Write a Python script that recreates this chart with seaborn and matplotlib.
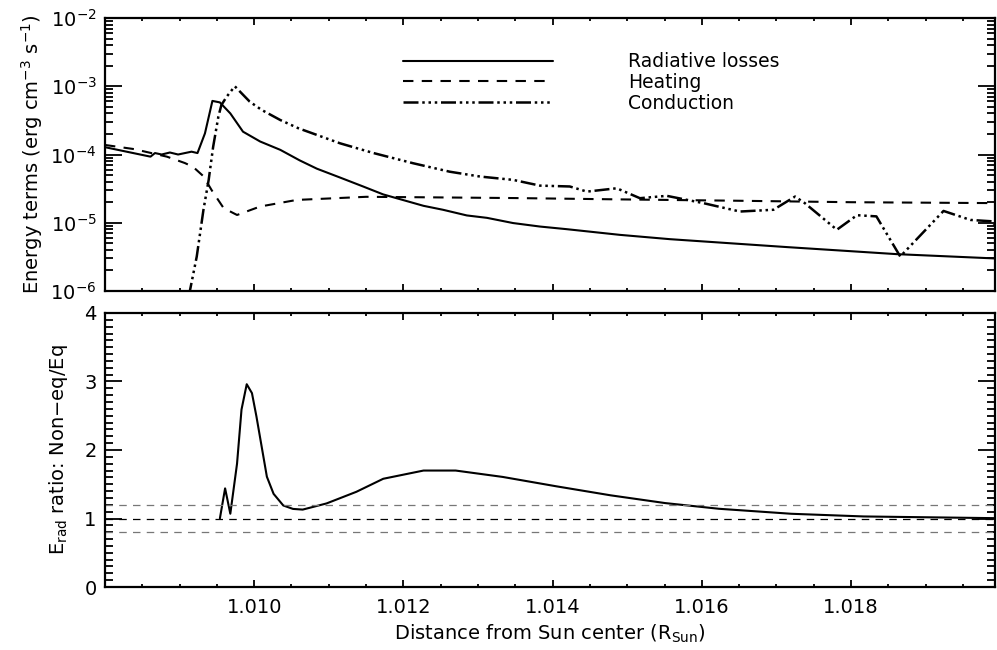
import matplotlib
matplotlib.use("Agg")
import matplotlib.pyplot as plt
from matplotlib.ticker import LogLocator, MultipleLocator, FuncFormatter, NullFormatter
import seaborn as sns

# radiative losses (solid)
x_rad = [1.0080, 1.00861, 1.00867, 1.00876, 1.00887, 1.00898, 1.00916, 1.00924, 1.00934,
         1.00944, 1.00954, 1.00968, 1.00985, 1.01008, 1.01035, 1.01061, 1.01084, 1.01115,
         1.01146, 1.01173, 1.01227, 1.01253, 1.01285, 1.01312, 1.01347, 1.01383, 1.01419,
         1.0149, 1.01557, 1.01714, 1.01861, 1.01993]
rad = [1.28e-4, 9.3e-5, 1.05e-4, 1.0e-4, 1.07e-4, 1.0e-4, 1.1e-4, 1.05e-4, 2.04e-4,
       6.1e-4, 5.8e-4, 4.0e-4, 2.16e-4, 1.55e-4, 1.17e-4, 8.2e-5, 6.2e-5, 4.6e-5,
       3.4e-5, 2.6e-5, 1.77e-5, 1.55e-5, 1.28e-5, 1.18e-5, 9.9e-6, 8.8e-6, 8.05e-6,
       6.65e-6, 5.75e-6, 4.4e-6, 3.47e-6, 3.0e-6]

# heating (dashed)
x_heat = [1.0080, 1.00839, 1.00883, 1.00907, 1.00918, 1.00932, 1.00943, 1.00959, 1.00977,
          1.01008, 1.01057, 1.0115, 1.0125, 1.0135, 1.0149, 1.0165, 1.0180, 1.01993]
heat = [1.38e-4, 1.2e-4, 9.3e-5, 7.5e-5, 6.6e-5, 4.8e-5, 3.0e-5, 1.64e-5, 1.3e-5,
        1.73e-5, 2.16e-5, 2.4e-5, 2.35e-5, 2.3e-5, 2.2e-5, 2.1e-5, 2.0e-5, 1.94e-5]

# conduction (dash dot dot dot)
x_cond = [1.00912, 1.00923, 1.00932, 1.00939, 1.00945, 1.00952, 1.00956, 1.00963, 1.00974,
          1.00994, 1.0101, 1.01035, 1.01059, 1.01115, 1.0116, 1.01213, 1.01262, 1.01303,
          1.01347, 1.01383, 1.01423, 1.01446, 1.01486, 1.01517, 1.01553, 1.01602, 1.01651,
          1.01696, 1.01725, 1.01738, 1.01781, 1.01808, 1.01834, 1.01866, 1.01924, 1.0196,
          1.01989, 1.01995]
cond = [8e-7, 3.2e-6, 1.55e-5, 4.25e-5, 1.3e-4, 3.6e-4, 5.3e-4, 7.0e-4, 1.0e-3,
        5.95e-4, 4.5e-4, 3.2e-4, 2.43e-4, 1.46e-4, 1.05e-4, 7.45e-5, 5.6e-5, 4.75e-5,
        4.25e-5, 3.5e-5, 3.4e-5, 2.86e-5, 3.2e-5, 2.29e-5, 2.48e-5, 1.94e-5, 1.46e-5,
        1.55e-5, 2.42e-5, 1.94e-5, 7.9e-6, 1.29e-5, 1.24e-5, 3.2e-6, 1.49e-5, 1.1e-5,
        1.05e-5, 8.3e-6]

# E_rad ratio non-eq / eq
x_ratio = [1.00954, 1.00961, 1.00968, 1.00977, 1.00983, 1.0099, 1.00997, 1.01003, 1.0101,
           1.01017, 1.01026, 1.01039, 1.01052, 1.01065, 1.01097, 1.01137, 1.01173, 1.01227,
           1.0127, 1.01333, 1.01405, 1.01478, 1.01551, 1.01623, 1.0172, 1.01817, 1.01993]
ratio = [1.0, 1.44, 1.07, 1.80, 2.59, 2.96, 2.83, 2.49, 2.05,
         1.61, 1.36, 1.19, 1.14, 1.13, 1.22, 1.39, 1.58, 1.70,
         1.70, 1.607, 1.47, 1.338, 1.225, 1.142, 1.069, 1.03, 1.005]

ref_lines = [1.2, 1.0, 0.8]
ref_colors = ["#777777", "black", "#777777"]

sns.set_theme(style="ticks")
plt.rcParams["font.family"] = ["DejaVu Sans"]
plt.rcParams["axes.linewidth"] = 1.6
plt.rcParams["text.color"] = "black"
plt.rcParams["axes.labelcolor"] = "black"

fig = plt.figure(figsize=(9.97, 6.5), dpi=100)
ax1 = fig.add_axes([0.1053, 0.5523, 0.8927, 0.4200])
ax2 = fig.add_axes([0.1053, 0.0969, 0.8927, 0.4216])

cond_style = (0, (6, 1.5, 1, 1.5, 1, 1.5, 1, 1.5))

sns.lineplot(x=x_rad, y=rad, ax=ax1, color="black", lw=1.5, sort=False,
             estimator=None, label="Radiative losses")
sns.lineplot(x=x_heat, y=heat, ax=ax1, color="black", lw=1.5, sort=False,
             estimator=None, linestyle=(0, (5, 4)), label="Heating")
sns.lineplot(x=x_cond, y=cond, ax=ax1, color="black", lw=1.8, sort=False,
             estimator=None, linestyle=cond_style, label="Conduction")

ax1.set_yscale("log")
ax1.set_ylim(1e-6, 1e-2)
ax1.set_xlim(1.008, 1.01993)
ax1.yaxis.set_major_locator(LogLocator(base=10, numticks=10))
ax1.yaxis.set_minor_locator(LogLocator(base=10, subs=range(2, 10), numticks=10))
ax1.yaxis.set_minor_formatter(NullFormatter())
ax1.xaxis.set_major_locator(MultipleLocator(0.002))
ax1.xaxis.set_minor_locator(MultipleLocator(0.0005))
ax1.set_xticklabels([])
ax1.set_xlabel("")
ax1.set_ylabel("Energy terms (erg cm$^{-3}$ s$^{-1}$)", fontsize=14, labelpad=4)

leg = ax1.legend(loc="upper left", bbox_to_anchor=(0.335, 0.875), frameon=False,
                 fontsize=13.5, handlelength=8.0, handletextpad=4.0, labelspacing=0.1,
                 borderpad=0, borderaxespad=0)
for t in leg.get_texts():
    t.set_color("black")

sns.lineplot(x=x_ratio, y=ratio, ax=ax2, color="black", lw=1.5, sort=False, estimator=None)
for yv, c in zip(ref_lines, ref_colors):
    ax2.axhline(yv, color=c, lw=0.9, linestyle=(0, (6, 5)))
ax2.set_ylim(0, 4)
ax2.set_xlim(1.008, 1.01993)
ax2.yaxis.set_major_locator(MultipleLocator(1))
ax2.yaxis.set_minor_locator(MultipleLocator(0.1))
ax2.xaxis.set_major_locator(MultipleLocator(0.002))
ax2.xaxis.set_minor_locator(MultipleLocator(0.0005))
ax2.xaxis.set_major_formatter(FuncFormatter(lambda v, p: "" if v < 1.009 else "%.3f" % v))
ax2.set_xlabel("Distance from Sun center (R$_{\\mathrm{Sun}}$)", fontsize=14, labelpad=4)
ax2.set_ylabel("E$_{\\mathrm{rad}}$ ratio: Non$-$eq/Eq", fontsize=14, labelpad=10)

for ax in (ax1, ax2):
    ax.tick_params(which="both", direction="in", top=True, right=True, colors="black",
                   labelsize=14, width=1.3)
    ax.tick_params(axis="y", which="major", length=12, pad=6)
    ax.tick_params(axis="y", which="minor", length=6)
    ax.tick_params(axis="x", which="major", length=5, pad=8)
    ax.tick_params(axis="x", which="minor", length=2.5)
    for s in ax.spines.values():
        s.set_color("black")

fig.savefig("out.png", dpi=100)
